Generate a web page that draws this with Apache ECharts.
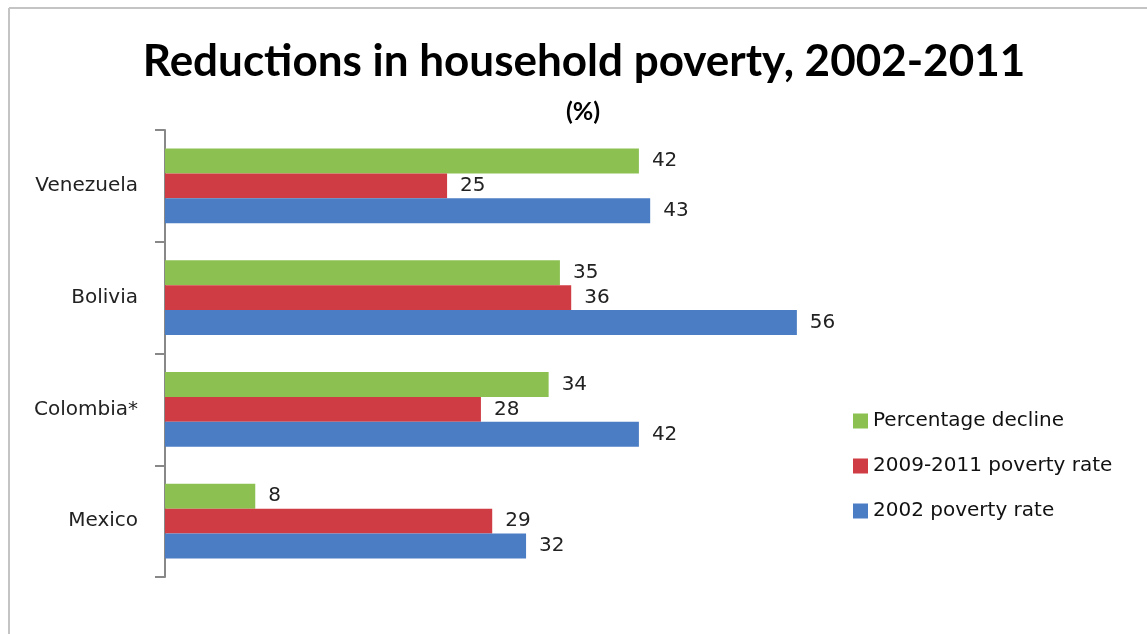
<!DOCTYPE html>
<html>
<head>
<meta charset="utf-8">
<script src="https://cdn.jsdelivr.net/npm/echarts@6/dist/echarts.min.js"></script>
<style>html,body{margin:0;padding:0;background:#fff;}#c{width:1147px;height:634px;}</style>
</head>
<body>
<div id="c"></div>
<script>
const categories = ['Venezuela', 'Bolivia', 'Colombia*', 'Mexico'];
const seriesNames = ['Percentage decline', '2009-2011 poverty rate', '2002 poverty rate'];
const percentageDecline = [42, 35, 34, 8];
const rate20092011 = [25, 36, 28, 29];
const rate2002 = [43, 56, 42, 32];
const colors = ['#8cc152', '#d03c43', '#4a7dc3'];

const chart = echarts.init(document.getElementById('c'));
const titleFont = 'Lato, "Open Sans", sans-serif';
const font = '"DejaVu Sans", sans-serif';
const valueSets = [percentageDecline, rate20092011, rate2002];
chart.setOption({
  animation: false,
  backgroundColor: '#fff',
  title: [
    { text: 'Reductions in household poverty, 2002-2011', left: 579, top: 35, textAlign: 'center',
      textStyle: { fontFamily: titleFont, fontSize: 44, fontWeight: 'bold', color: '#000' } },
    { text: '(%)', left: 578, top: 94, textAlign: 'center',
      textStyle: { fontFamily: titleFont, fontSize: 25, fontWeight: 'bold', color: '#000' } }
  ],
  legend: {
    orient: 'vertical', left: 848, top: 406, itemGap: 25, itemWidth: 15, itemHeight: 15,
    icon: 'rect', data: seriesNames,
    textStyle: { fontFamily: font, fontSize: 20, color: '#111' }
  },
  grid: { left: 165, right: 305, top: 130, bottom: 57, containLabel: false },
  xAxis: { type: 'value', min: 0, max: 60, show: false },
  yAxis: {
    type: 'category', data: categories, inverse: true,
    axisLine: { lineStyle: { color: '#888', width: 2 } },
    axisTick: { show: true, length: 10, lineStyle: { color: '#888', width: 2 } },
    axisLabel: { fontFamily: font, fontSize: 20, color: '#222', margin: 27 }
  },
  series: seriesNames.map((n, i) => ({
    name: n, type: 'bar', data: valueSets[i],
    barGap: '0%', barCategoryGap: '33%',
    itemStyle: { color: colors[i] },
    label: { show: true, position: 'right', distance: 13, fontFamily: font, fontSize: 20, color: '#222' }
  })),
  graphic: [
    { type: 'line', shape: { x1: 9, y1: 8, x2: 1147, y2: 8 }, style: { stroke: '#c4c4c4', lineWidth: 2 } },
    { type: 'line', shape: { x1: 9, y1: 8, x2: 9, y2: 634 }, style: { stroke: '#c4c4c4', lineWidth: 2 } }
  ]
});
</script>
</body>
</html>
